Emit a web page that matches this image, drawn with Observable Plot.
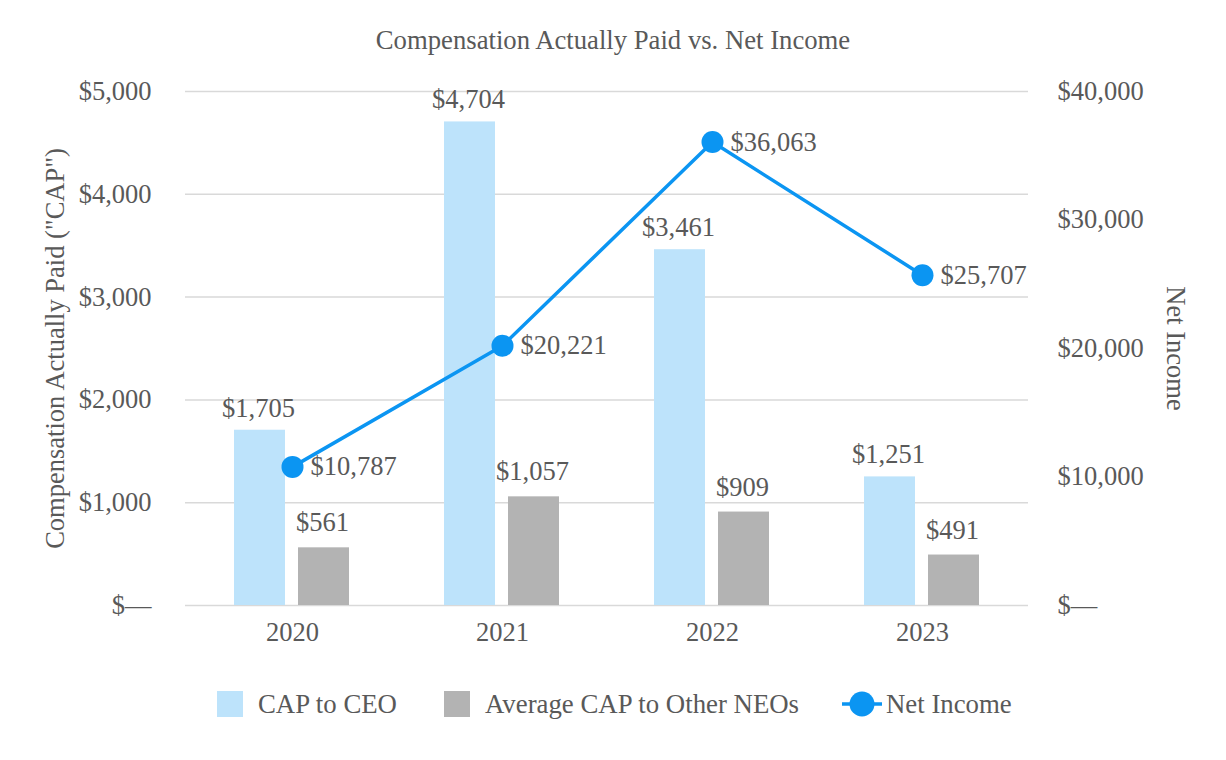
<!DOCTYPE html>
<html>
<head>
<meta charset="utf-8">
<script src="https://cdn.jsdelivr.net/npm/d3@7"></script>
<script src="https://cdn.jsdelivr.net/npm/@observablehq/plot@0.6"></script>
<style>
  html, body { margin: 0; padding: 0; background: #fff; }
  body { width: 1226px; height: 760px; font-family: "Liberation Serif", "Times New Roman", serif; color: #595959; position: relative; overflow: hidden; }
  #title { height: 70px; box-sizing: border-box; padding-top: 25px; text-align: center; font-size: 26.7px; line-height: 30px; color: #595959; }
  #chart svg { display: block; }
  #legend { position: relative; height: 60px; font-size: 26.8px; }
  .item { position: absolute; top: 21px; height: 26px; display: flex; align-items: center; white-space: nowrap; }
  .sw { width: 26px; height: 26px; margin-right: 15px; }
</style>
</head>
<body>
<div id="title">Compensation Actually Paid vs. Net Income</div>
<div id="chart"></div>
<div id="legend">
  <div class="item" style="left:217px"><div class="sw" style="background:#BDE3FB"></div><span>CAP to CEO</span></div>
  <div class="item" style="left:444px"><div class="sw" style="background:#B3B3B3"></div><span>Average CAP to Other NEOs</span></div>
  <div class="item" style="left:842px"><svg width="40" height="26" style="margin-right:4px"><line x1="0" y1="13" x2="40" y2="13" stroke="#0B95F2" stroke-width="3.5"/><circle cx="20" cy="13" r="12.5" fill="#0B95F2"/></svg><span>Net Income</span></div>
</div>
<script>
const years = ["2020", "2021", "2022", "2023"];
const capCEO = [1705, 4704, 3461, 1251];
const capNEO = [561, 1057, 909, 491];
const netIncome = [10787, 20221, 36063, 25707];
const leftTicks = [0, 1000, 2000, 3000, 4000, 5000];
const rightTicks = [0, 10000, 20000, 30000, 40000];
const leftMax = 5000;
const rightMax = 40000;
const ratio = rightMax / leftMax;

const fmt = v => v === 0 ? "$\u2014" : "$" + d3.format(",")(v);

const ceoData = years.map((year, i) => ({year, value: capCEO[i]}));
const neoData = years.map((year, i) => ({year, value: capNEO[i]}));
const niData = years.map((year, i) => ({year, value: netIncome[i]}));

const textColor = "#595959";
const lineColor = "#0B95F2";

const chart = Plot.plot({
  width: 1226,
  height: 600,
  marginTop: 21,
  marginBottom: 65,
  marginLeft: 185,
  marginRight: 198,
  style: {fontFamily: "Liberation Serif, Times New Roman, serif", fontSize: "26.5px", color: textColor, background: "white", overflow: "visible"},
  x: {type: "band", domain: years, padding: 0, label: null},
  y: {domain: [0, leftMax], label: null},
  marks: [
    Plot.gridY(leftTicks, {stroke: "#D9D9D9", strokeOpacity: 1, strokeWidth: 1.5}),
    Plot.barY(ceoData, {x: "year", y: "value", fill: "#BDE3FB", insetLeft: 47, insetRight: 112}),
    Plot.barY(neoData, {x: "year", y: "value", fill: "#B3B3B3", insetLeft: 111, insetRight: 48}),
    Plot.text(ceoData, {x: "year", y: "value", text: d => fmt(d.value), dx: -34, dy: -22, fill: textColor}),
    Plot.text(neoData, {x: "year", y: "value", text: d => fmt(d.value), dx: 30, dy: -25, fill: textColor}),
    Plot.line(niData, {x: "year", y: d => d.value / ratio, stroke: lineColor, strokeWidth: 3.5}),
    Plot.dot(niData, {x: "year", y: d => d.value / ratio, r: 11, fill: lineColor}),
    Plot.text(niData, {x: "year", y: d => d.value / ratio, text: d => fmt(d.value), textAnchor: "start", dx: 18, fill: textColor}),
    Plot.axisY(leftTicks, {anchor: "left", tickSize: 0, tickPadding: 34, tickFormat: fmt, label: null, fill: textColor}),
    Plot.axisY(rightTicks.map(v => v / ratio), {anchor: "right", tickSize: 0, tickPadding: 29, tickFormat: v => fmt(v * ratio), label: null, fill: textColor}),
    Plot.axisX({tickSize: 0, tickPadding: 17, label: null, fill: textColor}),
    Plot.text(["Compensation Actually Paid (\"CAP\")"], {frameAnchor: "left", textAnchor: "middle", rotate: -90, dx: -130, fill: textColor}),
    Plot.text(["Net Income"], {frameAnchor: "right", textAnchor: "middle", rotate: 90, dx: 147, fill: textColor})
  ]
});
document.getElementById("chart").appendChild(chart);
</script>
</body>
</html>
